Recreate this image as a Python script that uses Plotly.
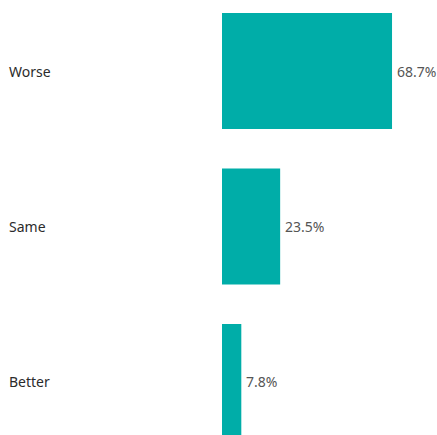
import plotly.graph_objects as go

categories = ["Better", "Same", "Worse"]
shares = [7.8, 23.5, 68.7]

BAR_COLOR = "#00ADA8"
W, H = 437, 435
LEFT = 222
FONT = "Noto Sans, Open Sans, sans-serif"

fig = go.Figure(
    go.Bar(
        x=shares,
        y=categories,
        orientation="h",
        marker=dict(color=BAR_COLOR, line=dict(width=0)),
        width=0.746,
        hoverinfo="skip",
    )
)

plot_w = W - LEFT
for cat, val in zip(categories, shares):
    # category name at the far left
    fig.add_annotation(
        x=-(LEFT - 7) / plot_w,
        xref="paper",
        y=cat,
        yref="y",
        text=cat,
        showarrow=False,
        xanchor="left",
        yanchor="middle",
        font=dict(family=FONT, size=14, color="#2b2b2b"),
    )
    # value label just past the bar end
    fig.add_annotation(
        x=val,
        xref="x",
        y=cat,
        yref="y",
        text=f"{val:.1f}%",
        showarrow=False,
        xanchor="left",
        yanchor="middle",
        xshift=3,
        font=dict(family=FONT, size=14, color="#555555"),
    )

fig.update_layout(
    width=W,
    height=H,
    margin=dict(l=LEFT, r=0, t=0, b=0),
    paper_bgcolor="white",
    plot_bgcolor="white",
    showlegend=False,
    xaxis=dict(range=[0, plot_w / 2.475], visible=False, fixedrange=True),
    yaxis=dict(
        range=[-0.341, 2.457],
        type="category",
        categoryorder="array",
        categoryarray=categories,
        showticklabels=False,
        showgrid=False,
        zeroline=False,
        fixedrange=True,
    ),
)

fig.write_html("out.html", config={"displayModeBar": False})
